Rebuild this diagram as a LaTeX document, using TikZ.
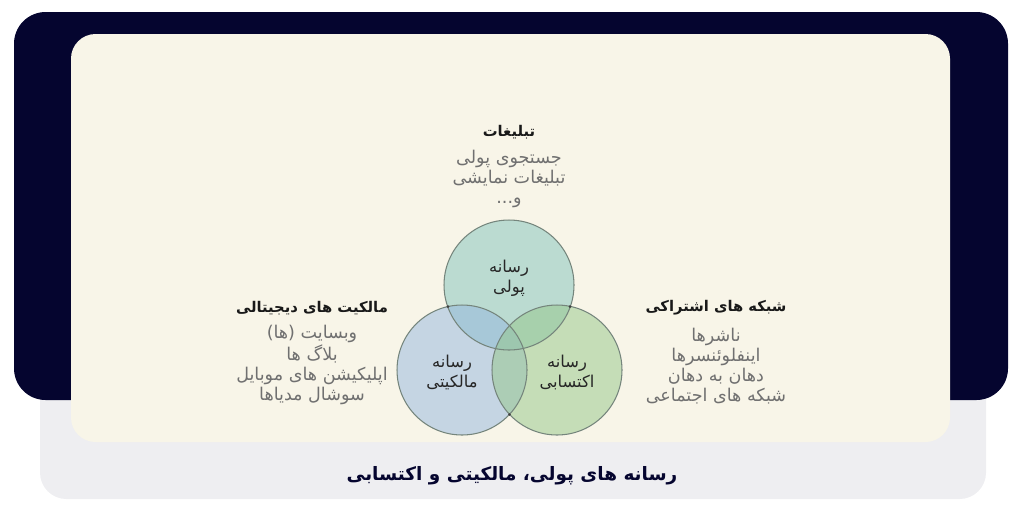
\documentclass[tikz,border=0pt]{standalone}
\usepackage{fontspec}
\newfontfamily\fafont[Script=Arabic]{DejaVu Sans}
\TeXXeTstate=1
\definecolor{navy}{HTML}{05052F}
\definecolor{cream}{HTML}{F8F5E8}
\definecolor{pale}{HTML}{EEEEF1}
\definecolor{listgray}{HTML}{707070}
\definecolor{ringgray}{HTML}{75857C}
\definecolor{pulfill}{HTML}{80C3BC}
\definecolor{malfill}{HTML}{94B7E0}
\definecolor{ektfill}{HTML}{94C788}
\newcommand{\rtl}[1]{\beginR #1\endR}
\tikzset{
	headtxt/.style={font=\fafont\bfseries\fontsize{8.4}{11}\selectfont, text=black!90, align=center},
	listtxt/.style={font=\fafont\fontsize{10}{11.4}\selectfont, text=listgray, align=center},
	venn/.style={fill opacity=0.5},
	ring/.style={draw=ringgray, line width=0.6pt},
	vennlbl/.style={font=\fafont\fontsize{9.3}{11.4}\selectfont, text=black!85, align=center},
}
\begin{document}
\begin{tikzpicture}[x=0.02cm,y=-0.02cm]
		\def\r{1.3cm}
		\useasboundingbox (0,0) rectangle (1024,512);
		% the frames
		\fill[pale, rounded corners=15] (40,330) rectangle (986,499);
		\fill[navy, rounded corners=18] (14,12) rectangle (1008,400);
		\fill[cream, rounded corners=14] (71,34) rectangle (950,442);
		% the three circles
		\fill[venn, pulfill] (509,285) circle[radius=\r];
		\fill[venn, malfill] (462,370) circle[radius=\r];
		\fill[venn, ektfill] (557,370) circle[radius=\r];
		\draw[ring] (509,285) circle[radius=\r];
		\draw[ring] (462,370) circle[radius=\r];
		\draw[ring] (557,370) circle[radius=\r];
		\foreach \p in {(448,306.6),(570,306.6),(509.5,414.4)}
			\fill[black!75] \p circle[radius=1.4];
		\node[vennlbl] (pul) at (509,278) {\rtl{رسانه}\\\rtl{پولی}};
		\node[vennlbl] (mal) at (452,372) {\rtl{رسانه}\\\rtl{مالکیتی}};
		\node[vennlbl] (ekt) at (567,372) {\rtl{رسانه}\\\rtl{اکتسابی}};
		% the texts round them
		\node[headtxt] (tabH) at (509,132) {\rtl{تبلیغات}};
		\node[listtxt] (tabL) at (509,179) {\rtl{جستجوی پولی}\\\rtl{تبلیغات نمایشی}\\\rtl{و...}};
		\node[headtxt] (malH) at (312,308) {\rtl{مالکیت های دیجیتالی}};
		\node[listtxt] (malL) at (312,365) {\rtl{وبسایت (ها)}\\\rtl{بلاگ ها}\\\rtl{اپلیکیشن های موبایل}\\\rtl{سوشال مدیاها}};
		\node[headtxt] (ektH) at (716,308) {\rtl{شبکه های اشتراکی}};
		\node[listtxt] (ektL) at (716,366) {\rtl{ناشرها}\\\rtl{اینفلوئنسرها}\\\rtl{دهان به دهان}\\\rtl{شبکه های اجتماعی}};
		% the title
		\node[font=\fafont\bfseries\fontsize{10.5}{13}\selectfont, text=navy] (title) at (512,476) {\rtl{رسانه های پولی، مالکیتی و اکتسابی}};
\end{tikzpicture}
\end{document}
